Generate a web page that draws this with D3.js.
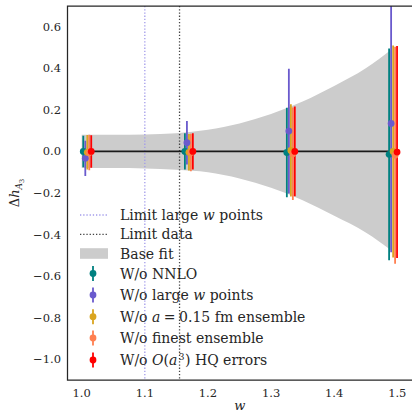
<!DOCTYPE html>
<html>
<head>
<meta charset="utf-8">
<script src="https://cdn.jsdelivr.net/npm/d3@7"></script>
<style>
  html, body { margin: 0; padding: 0; background: #fff; }
  svg { display: block; }
  text { font-family: "DejaVu Serif", serif; fill: #262626; }
</style>
</head>
<body>
<svg id="chart" width="412" height="414"></svg>
<script>
// Base fit band
const bandW  = [1.0, 1.05, 1.1, 1.15, 1.2, 1.25, 1.3, 1.35, 1.4, 1.45, 1.49];
const bandHi = [0.080, 0.080, 0.082, 0.088, 0.105, 0.135, 0.18, 0.24, 0.315, 0.40, 0.49];
const bandLo = [-0.080, -0.080, -0.082, -0.088, -0.10, -0.13, -0.175, -0.235, -0.31, -0.39, -0.475];

// w points of the variations (each series is slightly shifted)
const wPoints = [1.0, 1.161, 1.3225, 1.4845];
const wShift = [0.0025, 0.0057, 0.0089, 0.012, 0.0151];

const seriesNames = [
  'W/o NNLO',
  'W/o large w points',
  'W/o a=0.15 fm ensemble',
  'W/o finest ensemble',
  'W/o O(a3) HQ errors'
];
const seriesColors = ['#008080', '#6a5acd', '#daa520', '#ff7f50', '#ff0000'];
const centers = [
  [0.0, 0.0, -0.005, -0.014],
  [-0.033, 0.042, 0.098, 0.135],
  [-0.004, -0.004, 0.005, 0.0],
  [-0.005, -0.005, -0.011, -0.018],
  [0.0, 0.0, 0.0, -0.003]
];
const errors = [
  [0.076, 0.087, 0.215, 0.51],
  [0.085, 0.105, 0.30, 0.62],
  [0.083, 0.088, 0.222, 0.51],
  [0.085, 0.09, 0.223, 0.522],
  [0.078, 0.087, 0.216, 0.51]
];

const limitLargeW = 1.1;
const limitData = 1.155;
const xTicks = [1.0, 1.1, 1.2, 1.3, 1.4, 1.5];
const yTicks = [0.6, 0.4, 0.2, 0.0, -0.2, -0.4, -0.6, -0.8, -1.0];

const svg = d3.select('#chart');
const pLeft = 67.5, pTop = 6, pBottom = 380, pRight = 412;

const x = d3.scaleLinear().domain([0.9775, 1.5225]).range([pLeft, pLeft + 0.545 * 631.2]);
const y = d3.scaleLinear().domain([-1.1, 0.7]).range([pBottom, pTop]);

svg.append('defs').append('clipPath').attr('id', 'clip')
  .append('rect').attr('x', pLeft).attr('y', pTop)
  .attr('width', pRight - pLeft + 2).attr('height', pBottom - pTop);

const plot = svg.append('g').attr('clip-path', 'url(#clip)');

// band
const band = bandW.map((w, i) => ({ w, hi: bandHi[i], lo: bandLo[i] }));
plot.append('path')
  .datum(band)
  .attr('fill', '#cccccc')
  .attr('d', d3.area().curve(d3.curveMonotoneX)
    .x(d => x(d.w)).y0(d => y(d.lo)).y1(d => y(d.hi)));

// vertical limits
plot.append('line')
  .attr('x1', x(limitLargeW)).attr('x2', x(limitLargeW))
  .attr('y1', pTop).attr('y2', pBottom)
  .attr('stroke', '#a29bea').attr('stroke-width', 1.3)
  .attr('stroke-dasharray', '1.3,1.9');
plot.append('line')
  .attr('x1', x(limitData)).attr('x2', x(limitData))
  .attr('y1', pTop).attr('y2', pBottom)
  .attr('stroke', '#444').attr('stroke-width', 1.3)
  .attr('stroke-dasharray', '1.3,1.9');

// zero line
plot.append('line')
  .attr('x1', x(1.0)).attr('x2', x(1.5))
  .attr('y1', y(0)).attr('y2', y(0))
  .attr('stroke', '#1a1a1a').attr('stroke-width', 1.8);

// error bars first, markers on top
const allPts = seriesNames.map((name, s) =>
  wPoints.map((w, i) => ({ w: w + wShift[s], c: centers[s][i], e: errors[s][i], s })));

const bars = plot.append('g');
allPts.forEach(pts => {
  bars.append('g').selectAll('line').data(pts).enter().append('line')
    .attr('x1', d => x(d.w)).attr('x2', d => x(d.w))
    .attr('y1', d => y(d.c - d.e)).attr('y2', d => y(d.c + d.e))
    .attr('stroke', d => seriesColors[d.s]).attr('stroke-width', 1.8);
});
const marks = plot.append('g');
allPts.forEach(pts => {
  marks.append('g').selectAll('circle').data(pts).enter().append('circle')
    .attr('cx', d => x(d.w)).attr('cy', d => y(d.c))
    .attr('r', 3.4).attr('fill', d => seriesColors[d.s]);
});

// spines
svg.append('path')
  .attr('d', `M${pRight + 2},${pTop}H${pLeft}V${pBottom}H${pRight + 2}`)
  .attr('fill', 'none').attr('stroke', '#262626').attr('stroke-width', 1.25);

// tick labels
svg.append('g').selectAll('text').data(xTicks).enter().append('text')
  .attr('x', d => x(d)).attr('y', 397)
  .attr('text-anchor', 'middle').attr('font-size', 11.5)
  .text(d => d.toFixed(1));
svg.append('g').selectAll('text').data(yTicks).enter().append('text')
  .attr('x', 61).attr('y', d => y(d) + 4)
  .attr('text-anchor', 'end').attr('font-size', 11.5)
  .text(d => (d < 0 ? '\u2212' : '') + Math.abs(d).toFixed(1));

// axis labels
svg.append('text')
  .attr('x', (pLeft + pRight) / 2).attr('y', 410)
  .attr('text-anchor', 'middle').attr('font-size', 13)
  .attr('font-style', 'italic').text('w');

const ylab = svg.append('text')
  .attr('transform', `translate(19,${(pTop + pBottom) / 2}) rotate(-90)`)
  .attr('text-anchor', 'middle').attr('font-size', 13);
ylab.append('tspan').text('\u0394');
ylab.append('tspan').attr('font-style', 'italic').text('h');
ylab.append('tspan').attr('font-style', 'italic').attr('font-size', 9).attr('dy', 3).text('A');
ylab.append('tspan').attr('font-size', 6.5).attr('dy', 2).text('3');

// legend
const leg = svg.append('g');
const hx0 = 80, hx1 = 108, tx = 120;
const rowY = [215, 234.3, 253.5, 273.5, 295, 316.7, 338, 360];

leg.append('line').attr('x1', hx0).attr('x2', hx1).attr('y1', rowY[0]).attr('y2', rowY[0])
  .attr('stroke', '#a29bea').attr('stroke-width', 1.3).attr('stroke-dasharray', '1.3,1.9');
leg.append('line').attr('x1', hx0).attr('x2', hx1).attr('y1', rowY[1]).attr('y2', rowY[1])
  .attr('stroke', '#444').attr('stroke-width', 1.3).attr('stroke-dasharray', '1.3,1.9');
leg.append('rect').attr('x', hx0).attr('y', rowY[2] - 5.3).attr('width', hx1 - hx0).attr('height', 10.6)
  .attr('fill', '#cccccc');

function legText(row) {
  return leg.append('text').attr('x', tx).attr('y', rowY[row] + 5).attr('font-size', 14);
}
let t = legText(0);
t.append('tspan').text('Limit large ');
t.append('tspan').attr('font-style', 'italic').text('w');
t.append('tspan').text(' points');
legText(1).text('Limit data');
legText(2).text('Base fit');

seriesNames.forEach((name, s) => {
  const cy = rowY[3 + s];
  const cx = (hx0 + hx1) / 2 - 1;
  leg.append('line').attr('x1', cx).attr('x2', cx).attr('y1', cy - 7.5).attr('y2', cy + 7.5)
    .attr('stroke', seriesColors[s]).attr('stroke-width', 1.8);
  leg.append('circle').attr('cx', cx).attr('cy', cy).attr('r', 3.4).attr('fill', seriesColors[s]);
});
legText(3).text('W/o NNLO');
t = legText(4);
t.append('tspan').text('W/o large ');
t.append('tspan').attr('font-style', 'italic').text('w');
t.append('tspan').text(' points');
t = legText(5);
t.append('tspan').text('W/o ');
t.append('tspan').attr('font-style', 'italic').text('a');
t.append('tspan').text('\u2005=\u20050.15 fm ensemble');
legText(6).text('W/o finest ensemble');
t = legText(7);
t.append('tspan').text('W/o ');
t.append('tspan').attr('font-style', 'italic').text('O');
t.append('tspan').text('(');
t.append('tspan').attr('font-style', 'italic').text('a');
t.append('tspan').attr('font-size', 9).attr('dx', 1.5).attr('dy', -5.5).text('3');
t.append('tspan').attr('dx', 0.5).attr('dy', 5.5).text(') HQ errors');
</script>
</body>
</html>
